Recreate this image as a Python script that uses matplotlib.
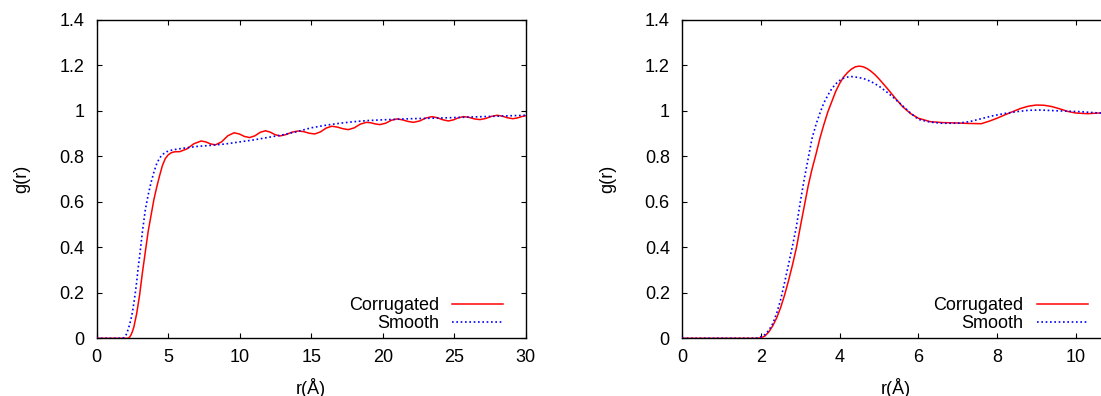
import matplotlib
matplotlib.use("Agg")
import matplotlib.pyplot as plt
from matplotlib.ticker import FuncFormatter, MultipleLocator

plt.rcParams["font.family"] = ["Liberation Sans", "DejaVu Sans"]
plt.rcParams["font.size"] = 13

# ---- long-range g(r), 0-30 Å ----
r_long_corr = [0, 1.0, 2.0, 2.2, 2.3, 2.4, 2.5, 2.6, 2.7, 2.8, 2.9, 3.0, 3.2, 3.4, 3.6,
               3.8, 4.0, 4.2, 4.4, 4.6, 4.8, 5.0, 5.2, 5.4, 5.6, 5.8, 6.3, 6.8, 7.3,
               7.63, 7.97, 8.3, 8.73, 9.17, 9.6, 9.97, 10.33, 10.7, 11.07, 11.43, 11.8,
               12.13, 12.47, 12.8, 13.23, 13.67, 14.1, 14.48, 14.87, 15.25, 15.65, 16.05,
               16.45, 16.83, 17.22, 17.6, 18.02, 18.43, 18.85, 19.17, 19.48, 19.8, 20.2,
               20.6, 21.0, 21.38, 21.77, 22.15, 22.58, 23.02, 23.45, 23.83, 24.22, 24.6,
               24.95, 25.3, 25.65, 26.03, 26.42, 26.8, 27.2, 27.6, 28.0, 28.37, 28.73,
               29.1, 29.4, 29.7, 30.0]
g_long_corr = [0, 0, 0, 0.0, 0.005, 0.015, 0.03, 0.05, 0.08, 0.11, 0.15, 0.19, 0.29, 0.38,
               0.47, 0.54, 0.61, 0.665, 0.715, 0.76, 0.79, 0.806, 0.815, 0.819, 0.82, 0.82,
               0.832, 0.855, 0.867, 0.863, 0.854, 0.85, 0.863, 0.890, 0.903, 0.898, 0.887,
               0.882, 0.890, 0.905, 0.912, 0.906, 0.895, 0.889, 0.895, 0.906, 0.911, 0.908,
               0.901, 0.898, 0.907, 0.924, 0.932, 0.928, 0.921, 0.917, 0.925, 0.941, 0.949,
               0.947, 0.942, 0.939, 0.945, 0.958, 0.964, 0.960, 0.953, 0.949, 0.955, 0.968,
               0.974, 0.969, 0.960, 0.955, 0.960, 0.969, 0.974, 0.971, 0.964, 0.961, 0.966,
               0.975, 0.980, 0.976, 0.969, 0.965, 0.968, 0.974, 0.978]

r_long_smooth = [0, 1.0, 1.8, 1.9, 2.0, 2.1, 2.2, 2.3, 2.4, 2.5, 2.6, 2.7, 2.8, 2.9, 3.0,
                 3.2, 3.4, 3.6, 3.8, 4.0, 4.2, 4.4, 4.6, 4.9, 5.3, 5.8, 7.0, 8.0, 9.0,
                 10.0, 11.0, 12.0, 13.0, 14.0, 15.0, 16.0, 17.0, 18.0, 19.0, 20.0, 22.0,
                 24.0, 26.0, 28.0, 30.0]
g_long_smooth = [0, 0, 0, 0.003, 0.01, 0.02, 0.04, 0.06, 0.085, 0.115, 0.155, 0.2, 0.25,
                 0.31, 0.36, 0.47, 0.565, 0.63, 0.685, 0.73, 0.768, 0.792, 0.808, 0.82,
                 0.828, 0.833, 0.843, 0.848, 0.854, 0.863, 0.872, 0.883, 0.894, 0.908,
                 0.925, 0.936, 0.945, 0.952, 0.957, 0.96, 0.965, 0.968, 0.972, 0.976, 0.98]

# ---- short-range g(r), first shells ----
r_short_corr = [0, 1.0, 1.9, 2.0, 2.1, 2.2, 2.3, 2.4, 2.5, 2.6, 2.7, 2.8, 2.9, 3.0, 3.1,
                3.2, 3.3, 3.4, 3.5, 3.6, 3.7, 3.8, 3.9, 4.0, 4.1, 4.2, 4.3, 4.4, 4.5, 4.6,
                4.7, 4.8, 4.9, 5.0, 5.2, 5.4, 5.6, 5.8, 6.0, 6.3, 6.6, 7.0, 7.3, 7.6, 7.8,
                8.0, 8.2, 8.4, 8.6, 8.8, 9.0, 9.2, 9.4, 9.6, 9.8, 10.0, 10.3, 10.6, 11.0]
g_short_corr = [0, 0, 0, 0.002, 0.01, 0.028, 0.055, 0.09, 0.135, 0.19, 0.253, 0.322, 0.397,
                0.49, 0.58, 0.67, 0.745, 0.81, 0.88, 0.94, 0.995, 1.04, 1.085, 1.12, 1.148,
                1.168, 1.183, 1.193, 1.196, 1.193, 1.185, 1.173, 1.158, 1.14, 1.1, 1.058,
                1.018, 0.988, 0.967, 0.952, 0.948, 0.946, 0.944, 0.943, 0.954, 0.967, 0.982,
                0.996, 1.01, 1.02, 1.025, 1.024, 1.018, 1.008, 0.997, 0.99, 0.987, 0.99,
                0.993]

r_short_smooth = [0, 1.0, 1.85, 1.95, 2.0, 2.1, 2.2, 2.3, 2.4, 2.5, 2.6, 2.7, 2.8, 2.9, 3.0,
                  3.1, 3.2, 3.3, 3.4, 3.5, 3.6, 3.7, 3.8, 3.9, 4.0, 4.1, 4.2, 4.3, 4.4, 4.5,
                  4.6, 4.8, 5.0, 5.2, 5.4, 5.6, 5.8, 6.0, 6.3, 6.6, 7.0, 7.3, 7.6, 7.9, 8.2,
                  8.5, 8.8, 9.1, 9.5, 9.8, 10.1, 10.6, 11.0]
g_short_smooth = [0, 0, 0, 0.003, 0.007, 0.016, 0.035, 0.065, 0.11, 0.17, 0.245, 0.325,
                  0.405, 0.49, 0.6, 0.7, 0.79, 0.88, 0.94, 0.99, 1.035, 1.068, 1.097, 1.118,
                  1.133, 1.143, 1.148, 1.15, 1.148, 1.145, 1.142, 1.128, 1.108, 1.082, 1.053,
                  1.022, 0.99, 0.962, 0.95, 0.945, 0.945, 0.952, 0.965, 0.978, 0.988, 0.996,
                  1.002, 1.003, 1.0, 0.998, 0.996, 0.99, 0.988]

labels = ["Corrugated", "Smooth"]
y_ticks = [0, 0.2, 0.4, 0.6, 0.8, 1.0, 1.2, 1.4]

W, H = 1101, 396
fig = plt.figure(figsize=(W / 100, H / 100), dpi=100)

ax_left = fig.add_axes([96.7 / W, 57.7 / H, 429 / W, 318.6 / H])
ax_right = fig.add_axes([682.3 / W, 57.7 / H, 428 / W, 318.6 / H])


def gfmt(v, pos):
    return "%g" % round(v, 3)


def style_axes(ax, xmax, xstep):
    ax.set_xlim(0, xmax)
    ax.set_ylim(0, 1.4)
    ax.xaxis.set_major_locator(MultipleLocator(xstep))
    ax.set_yticks(y_ticks)
    ax.xaxis.set_major_formatter(FuncFormatter(gfmt))
    ax.yaxis.set_major_formatter(FuncFormatter(gfmt))
    ax.tick_params(direction="in", length=3.3, width=0.8, top=True, right=True,
                   labelsize=13, colors="black")
    ax.tick_params(axis="x", pad=8)
    ax.tick_params(axis="y", pad=9)
    for s in ax.spines.values():
        s.set_linewidth(1.0)
        s.set_color("black")
    ax.set_xlabel("r(Å)", fontsize=13)
    ax.set_ylabel("g(r)", fontsize=13)
    ax.xaxis.set_label_coords(0.5, -0.125)
    ax.xaxis.label.set_va("top")
    ax.yaxis.set_label_coords(-0.155, 0.5)


def draw(ax, rc, gc, rs, gs):
    ax.plot(rc, gc, color="#ff0000", lw=1.1, label=labels[0], zorder=3)
    ax.plot(rs, gs, color="#0000ff", lw=1.2, linestyle=(0, (1, 1.6)),
            label=labels[1], zorder=3)
    ax.legend(loc="center right", bbox_to_anchor=(0.947, 0.074), frameon=False,
              markerfirst=False, handlelength=2.82, handletextpad=0.72,
              borderpad=0, borderaxespad=0, labelspacing=0.05, fontsize=13)


draw(ax_left, r_long_corr, g_long_corr, r_long_smooth, g_long_smooth)
style_axes(ax_left, 30, 5)

draw(ax_right, r_short_corr, g_short_corr, r_short_smooth, g_short_smooth)
style_axes(ax_right, 10.88, 2)

fig.savefig("out.png", dpi=100)
